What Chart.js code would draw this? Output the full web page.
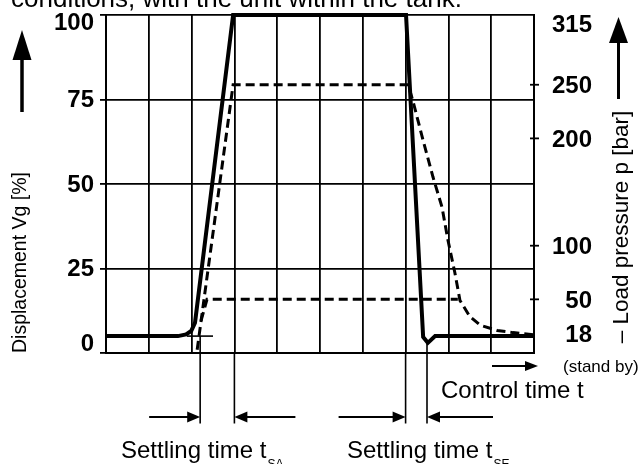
<!DOCTYPE html>
<html>
<head>
<meta charset="utf-8">
<script src="https://cdn.jsdelivr.net/npm/chart.js@4.4.1/dist/chart.umd.min.js"></script>
<style>
  html, body { margin: 0; padding: 0; background: #fff; }
  #wrap { position: relative; width: 643px; height: 464px; }
</style>
</head>
<body>
<div id="wrap"><canvas id="c" width="643" height="464"></canvas></div>
<script>
// Axis tick labels
const displacementTicks = [0, 25, 50, 75, 100];
const pressureTicks = [18, 50, 100, 200, 250, 315];
const pressureMarks = [50, 100, 200, 250];

// Displacement Vg [%] over control time (10 divisions)
const vgTime  = [0, 1.68, 1.87, 1.99, 2.08, 2.97, 7.01, 7.41, 7.52, 7.69, 10];
const vgValue = [5, 5, 5.5, 6.5, 9, 100, 100, 4.7, 3, 5, 5];

// Load pressure p [bar], 250 bar load case
const p250Time  = [2.13, 2.97, 7.06, 7.17, 7.41, 7.64, 7.85, 7.99, 8.15, 8.27, 8.50, 8.74, 9.14, 9.51, 10];
const p250Value = [3, 250, 250, 235, 198, 164, 136, 105, 75, 49, 34, 26, 21, 19, 17];

// Load pressure p [bar], 50 bar load case
const p50Time  = [2.22, 2.36, 8.22];
const p50Value = [30, 50, 50];

// Stand-by reference line at the start of the swivel
const refTime  = [1.89, 2.50];
const refValue = [5, 5];

// Settling time markers (start / end)
const settleA = [2.2, 3.0];
const settleE = [7.0, 7.5];

const FONT = '"Liberation Sans", Arial, Helvetica, sans-serif';

function pts(xs, ys) { return xs.map((x, i) => ({ x, y: ys[i] })); }
function clamp(v, lo, hi) { return Math.max(lo, Math.min(hi, v)); }

function arrowHead(ctx, x, y, dir, len, half) {
  // dir: 'up', 'right', 'left'
  ctx.beginPath();
  if (dir === 'up') {
    ctx.moveTo(x, y); ctx.lineTo(x - half, y + len); ctx.lineTo(x + half, y + len);
  } else if (dir === 'right') {
    ctx.moveTo(x, y); ctx.lineTo(x - len, y - half); ctx.lineTo(x - len, y + half);
  } else {
    ctx.moveTo(x, y); ctx.lineTo(x + len, y - half); ctx.lineTo(x + len, y + half);
  }
  ctx.closePath();
  ctx.fill();
}

function line(ctx, x1, y1, x2, y2, w) {
  ctx.lineWidth = w;
  ctx.beginPath();
  ctx.moveTo(x1, y1);
  ctx.lineTo(x2, y2);
  ctx.stroke();
}

const decorations = {
  id: 'decorations',
  afterDraw(chart) {
    const { ctx, chartArea: a } = chart;
    const { x, y, y2 } = chart.scales;
    ctx.save();
    ctx.fillStyle = '#000';
    ctx.strokeStyle = '#000';
    ctx.lineCap = 'butt';

    // caption line above the chart
    ctx.font = '26px ' + FONT;
    ctx.textAlign = 'left';
    ctx.textBaseline = 'alphabetic';
    ctx.fillText('conditions, with the unit within the tank.', 11, 7);

    // left tick labels
    ctx.font = 'bold 24px ' + FONT;
    ctx.textAlign = 'right';
    ctx.textBaseline = 'middle';
    y.ticks.forEach(t => {
      const py = clamp(y.getPixelForValue(t.value), a.top + 7, a.bottom - 10);
      ctx.fillText(String(t.value), 94, py + 1);
    });

    // right tick labels and crossing tick marks
    y2.ticks.forEach(t => {
      const py = clamp(y2.getPixelForValue(t.value), a.top + 8, a.bottom - 10);
      ctx.fillText(String(t.value), 592, py + 2);
    });
    pressureMarks.forEach(v => {
      const py = y2.getPixelForValue(v);
      line(ctx, a.right - 4, py, a.right + 5, py, 1.8);
    });
    ctx.font = '17px ' + FONT;
    ctx.textAlign = 'left';
    ctx.fillText('(stand by)', 563, 367);

    // left axis title with arrow
    ctx.save();
    ctx.translate(25.5, 262.5);
    ctx.rotate(-Math.PI / 2);
    ctx.font = '19.5px ' + FONT;
    ctx.textAlign = 'center';
    ctx.textBaseline = 'alphabetic';
    ctx.fillText('Displacement Vg [%]', 0, 0);
    ctx.restore();
    line(ctx, 22, 112, 22, 55, 3.5);
    arrowHead(ctx, 22, 30, 'up', 30, 9.5);

    // right axis title with arrow
    ctx.save();
    ctx.translate(628, 227);
    ctx.rotate(-Math.PI / 2);
    ctx.font = '22.5px ' + FONT;
    ctx.textAlign = 'center';
    ctx.textBaseline = 'alphabetic';
    ctx.fillText('– Load pressure p [bar]', 0, 0);
    ctx.restore();
    line(ctx, 618.5, 99, 618.5, 40, 3);
    arrowHead(ctx, 618.5, 17, 'up', 26, 9.5);

    // control time arrow and label
    line(ctx, 492, 366, 527, 366, 2);
    arrowHead(ctx, 538, 366, 'right', 13, 5);
    ctx.font = '24px ' + FONT;
    ctx.textBaseline = 'alphabetic';
    ctx.fillText('Control time t', 441, 398);

    // settling time markers
    const yArrow = 417, yEnd = 423.5;
    const xa0 = x.getPixelForValue(settleA[0]);
    const xa1 = x.getPixelForValue(settleA[1]);
    const xe0 = x.getPixelForValue(settleE[0]);
    const xe1 = x.getPixelForValue(settleE[1]);
    line(ctx, xa0, y.getPixelForValue(5), xa0, yEnd, 1.6);
    line(ctx, xa1, a.bottom, xa1, yEnd, 1.6);
    line(ctx, xe0, a.bottom, xe0, yEnd, 1.6);
    line(ctx, xe1, y.getPixelForValue(3), xe1, yEnd, 1.6);

    line(ctx, xa0 - 51, yArrow, xa0 - 10, yArrow, 2);
    arrowHead(ctx, xa0, yArrow, 'right', 13, 5.5);
    line(ctx, xa1 + 10, yArrow, xa1 + 61, yArrow, 2);
    arrowHead(ctx, xa1, yArrow, 'left', 13, 5.5);
    line(ctx, xe0 - 67, yArrow, xe0 - 10, yArrow, 2);
    arrowHead(ctx, xe0, yArrow, 'right', 13, 5.5);
    line(ctx, xe1 + 10, yArrow, xe1 + 66, yArrow, 2);
    arrowHead(ctx, xe1, yArrow, 'left', 13, 5.5);

    ctx.font = '24px ' + FONT;
    ctx.textAlign = 'left';
    const s1 = 'Settling time t';
    ctx.fillText(s1, 121, 458);
    const w1 = ctx.measureText(s1).width;
    ctx.fillText(s1, 347, 458);
    ctx.font = '12px ' + FONT;
    ctx.fillText('SA', 121 + w1 + 1, 468);
    ctx.fillText('SE', 347 + w1 + 1, 468);

    ctx.restore();
  }
};

new Chart(document.getElementById('c'), {
  type: 'line',
  data: {
    datasets: [
      {
        label: 'Displacement Vg',
        data: pts(vgTime, vgValue),
        yAxisID: 'y',
        borderColor: '#000',
        borderWidth: 4,
        borderJoinStyle: 'miter',
        pointRadius: 0,
        tension: 0,
        clip: false,
        order: 0
      },
      {
        label: 'Load pressure 250 bar',
        data: pts(p250Time, p250Value),
        yAxisID: 'y2',
        borderColor: '#000',
        borderWidth: 3,
        borderDash: [9, 5],
        pointRadius: 0,
        tension: 0,
        clip: false,
        order: 1
      },
      {
        label: 'Load pressure 50 bar',
        data: pts(p50Time, p50Value),
        yAxisID: 'y2',
        borderColor: '#000',
        borderWidth: 3,
        borderDash: [9, 5],
        pointRadius: 0,
        tension: 0,
        clip: false,
        order: 2
      },
      {
        label: 'Stand-by reference',
        data: pts(refTime, refValue),
        yAxisID: 'y',
        borderColor: '#000',
        borderWidth: 1.6,
        pointRadius: 0,
        tension: 0,
        clip: false,
        order: 3
      }
    ]
  },
  options: {
    responsive: false,
    animation: false,
    devicePixelRatio: 1,
    parsing: true,
    layout: { padding: { left: 0, right: 0, top: 15, bottom: 111 } },
    plugins: { legend: { display: false }, tooltip: { enabled: false } },
    scales: {
      x: {
        type: 'linear',
        min: 0, max: 10,
        ticks: { display: false, stepSize: 1 },
        grid: { color: '#000', lineWidth: 1.8, drawTicks: false },
        border: { display: true, color: '#000', width: 2 },
        afterFit: s => { s.height = 0; }
      },
      y: {
        position: 'left',
        min: 0, max: 100,
        ticks: { display: false, stepSize: 25 },
        grid: { color: '#000', lineWidth: 1.8, drawTicks: true, tickLength: 6 },
        border: { display: true, color: '#000', width: 2 },
        afterFit: s => { s.width = 106; }
      },
      y2: {
        position: 'right',
        min: 0, max: 315,
        ticks: { display: false },
        afterBuildTicks: s => { s.ticks = pressureTicks.map(v => ({ value: v })); },
        grid: { display: false },
        border: { display: true, color: '#000', width: 2 },
        afterFit: s => { s.width = 109; }
      }
    }
  },
  plugins: [decorations]
});
</script>
</body>
</html>
